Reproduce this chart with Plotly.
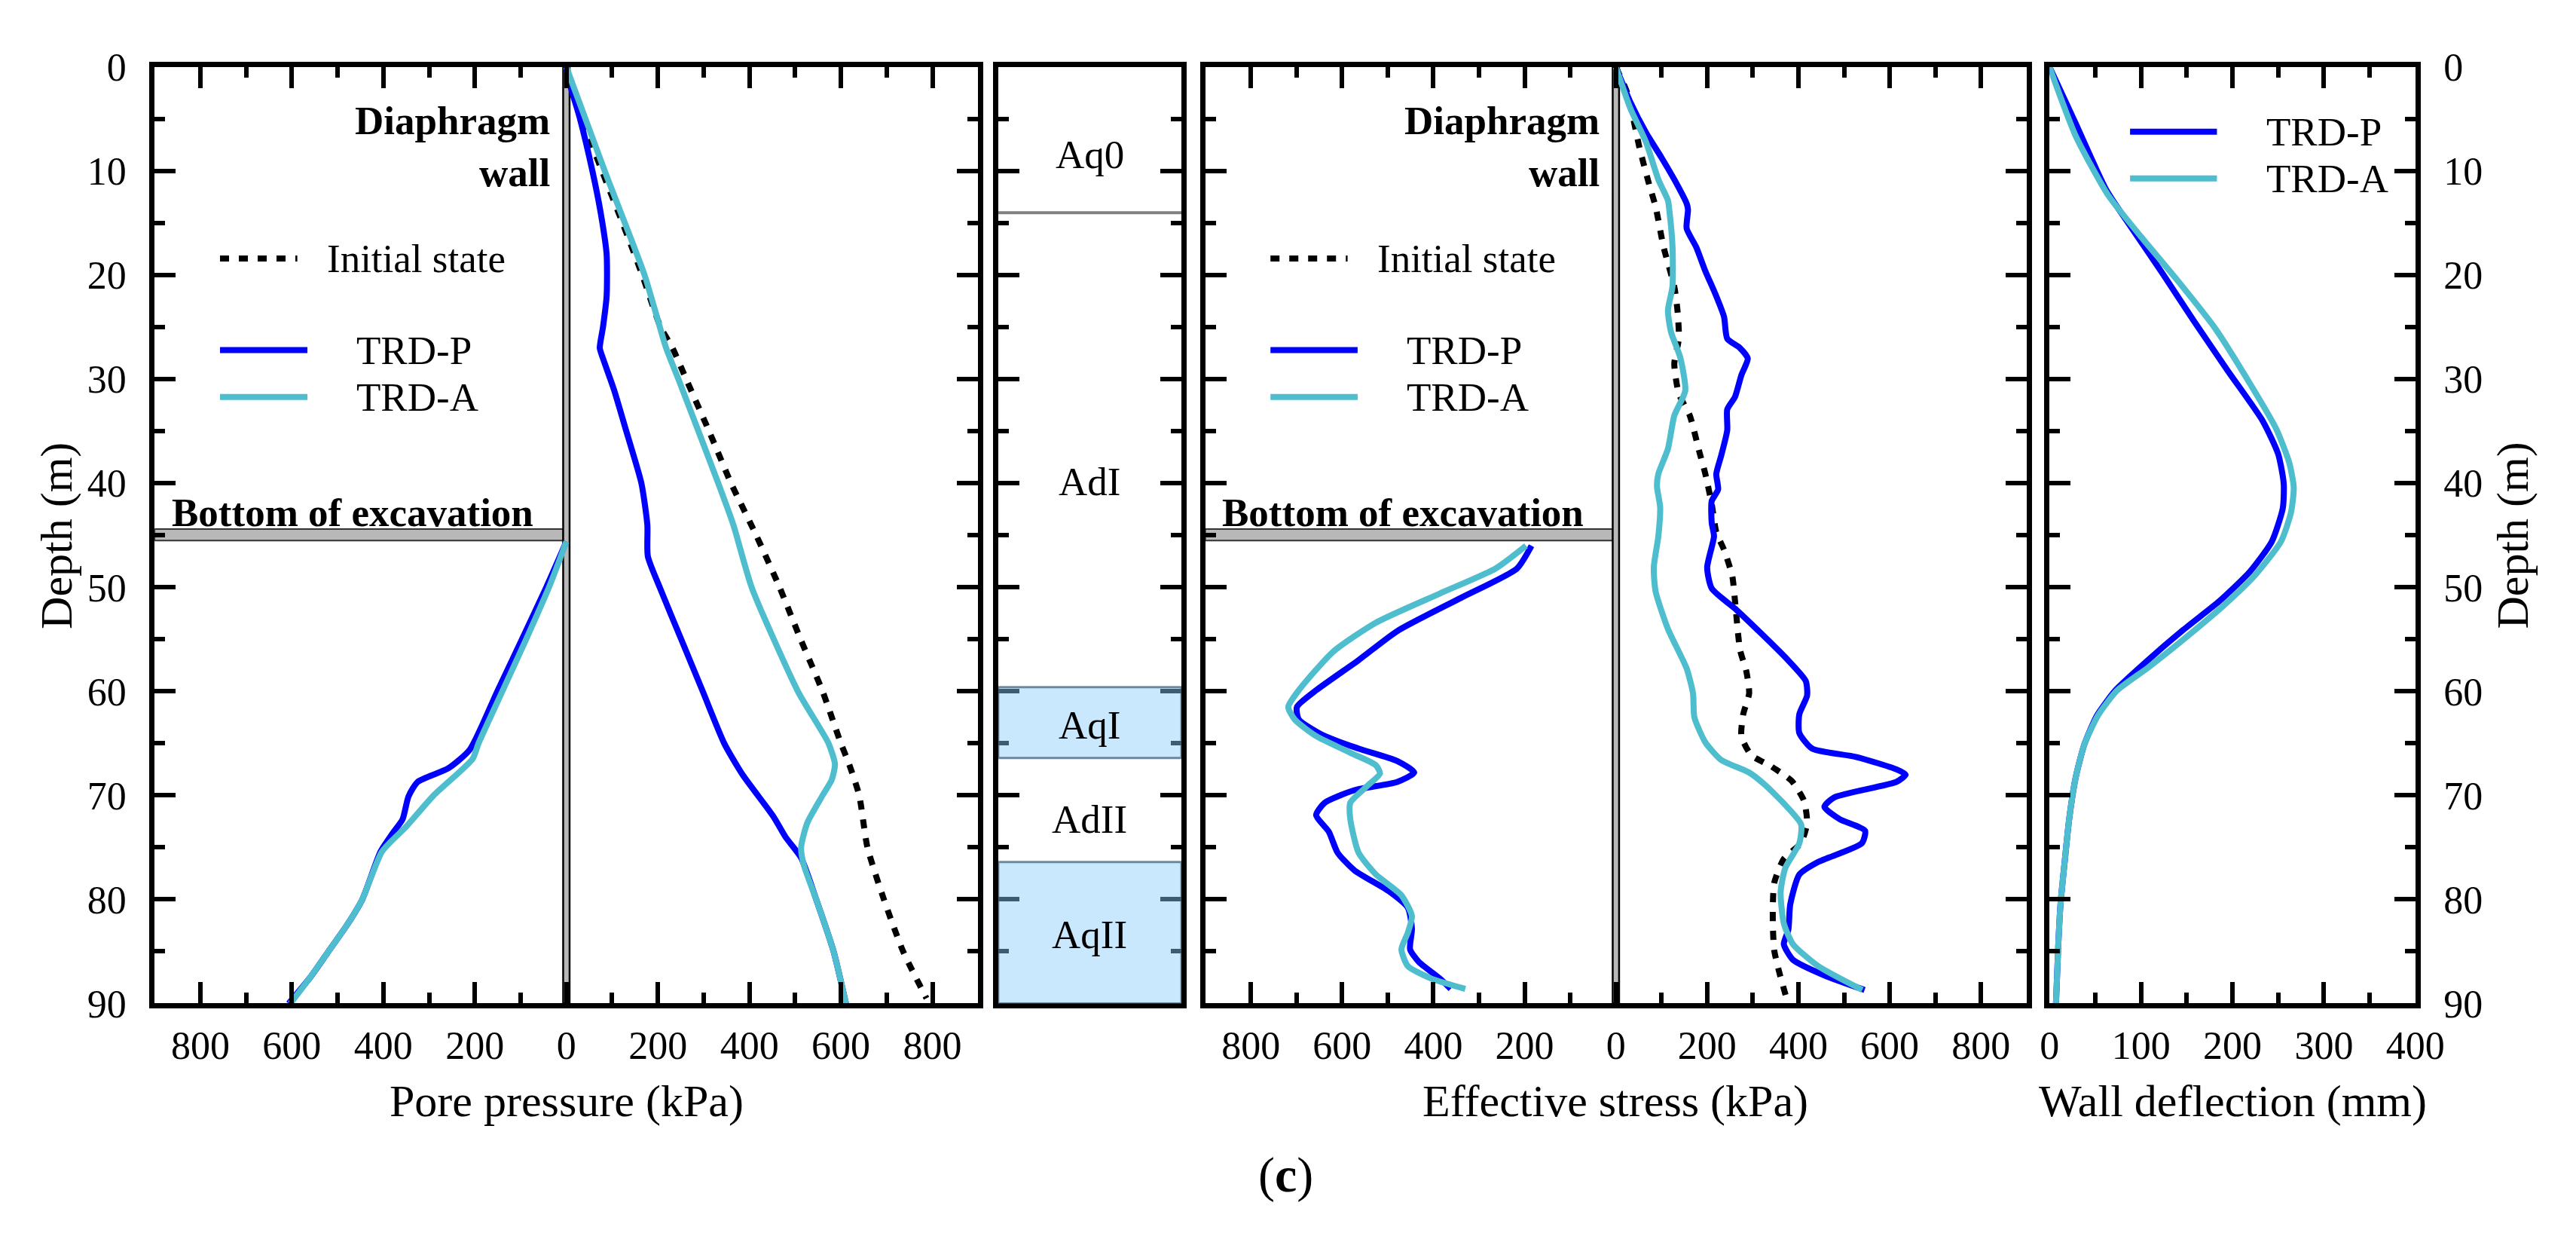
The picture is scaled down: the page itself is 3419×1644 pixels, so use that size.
import plotly.graph_objects as go

W, H = 3419, 1644

# ---- pore pressure (kPa); retained side plotted as negative ----
pp_init_d = [0, 5, 10, 15, 20, 25, 27, 30, 35, 40, 45, 50, 55, 60, 65, 67, 70, 75, 80, 85, 89.5]
pp_init_v = [0, 35, 78, 123, 166, 206, 232, 262, 312, 360, 415, 466, 512, 560, 600, 618, 640, 658, 694, 736, 787]

pp_p_d = [0, 2, 5, 10, 14, 18, 22, 25, 27, 28, 31, 35, 40, 44, 47, 50, 55, 60, 65, 68, 72, 74, 76, 80, 85, 90]
pp_p_v = [0, 10, 30, 57, 75, 88, 88, 80, 73, 80, 104, 131, 164, 177, 178, 204, 251, 298, 345, 385, 452, 479, 513, 546, 584, 611]

pp_a_d = [0, 10, 20, 27, 30, 40, 44, 50, 60, 65, 67, 68.5, 70, 72.7, 75, 76.7, 80, 85, 90]
pp_a_v = [0, 84, 171, 218, 245, 332, 365, 405, 506, 573, 587, 580, 560, 526, 513, 519, 546, 584, 611]

pp_p_left_d = [45.6, 50, 55, 60, 65.6, 67.4, 68.7, 70.1, 72.3, 73.6, 75.4, 80, 82.5, 85, 87.5, 90]
pp_p_left_v = [0, -44, -97, -151, -211, -258, -325, -345, -358, -379, -406, -446, -480, -520, -560, -607]

pp_a_left_d = [45.6, 50, 55, 60, 65, 66.5, 70, 73, 75.4, 80, 82.5, 85, 87.5, 90]
pp_a_left_v = [0, -38, -88, -140, -192, -205, -290, -350, -403, -446, -480, -520, -560, -603]

# ---- effective stress (kPa) ----
es_init_d = [0, 2.5, 7.8, 11.3, 13.4, 17.2, 21.1, 23.4, 26.1, 28.5, 31.4, 33.5, 37.0, 39.1, 42.0, 44.7,
             46.4, 48.9, 51.3, 56.0, 58.1, 60.2, 62.2, 64.3, 66.1, 67.2, 68.6, 70.5, 72.7, 74.6, 76.1,
             78.4, 80.5, 82.6, 84.9, 87.0, 89.2]
es_init_v = [0, 25, 52, 73, 87, 104, 128, 135, 138, 128, 138, 162, 183, 196, 210, 220,
             237, 255, 261, 272, 286, 292, 279, 275, 296, 340, 385, 412, 419, 405, 368,
             347, 344, 344, 347, 358, 372]

es_p_d = [0, 3.4, 6.3, 8.7, 10.8, 13.1, 13.7, 15.5, 17.3, 19.6, 21.7, 24.0, 26.1, 27.0, 28.0, 29.6,
          31.7, 32.9, 34.9, 37.3, 39.1, 40.6, 41.7, 43.8, 45.1, 48.1, 50.1, 52.2, 54.5, 56.9, 59.0,
          60.4, 62.2, 64.0, 65.5, 66.3, 67.5, 68.0, 68.7, 70.2, 71.1, 72.3, 73.4, 74.6, 76.4, 77.6,
          80.5, 82.9, 84.3, 85.8, 87.3, 88.7]
es_p_v = [0, 32, 66, 100, 128, 155, 158, 155, 176, 196, 217, 237, 244, 272, 289, 275,
          261, 244, 244, 231, 220, 224, 210, 210, 215, 200, 210, 265, 320, 375, 416,
          419, 402, 402, 430, 526, 615, 635, 615, 478, 457, 491, 546, 539, 443, 402,
          382, 378, 368, 388, 457, 545]

es_a_d = [0, 4.0, 7.2, 10.8, 12.8, 13.7, 17.2, 21.1, 23.4, 25.5, 27.9, 31.1, 33.5, 36.7, 39.1, 40.3,
          42.3, 45.1, 48.1, 50.4, 54.0, 57.8, 60.2, 62.5, 64.9, 66.6, 67.8, 69.0, 71.1, 72.8, 74.6,
          77.0, 79.3, 82.3, 84.3, 86.4, 88.7]
es_a_v = [0, 32, 66, 93, 114, 117, 124, 124, 114, 121, 141, 152, 128, 114, 93, 90,
          97, 93, 83, 87, 114, 155, 169, 172, 196, 231, 292, 327, 375, 406, 402,
          371, 361, 368, 388, 443, 540]

es_p_left_d = [46.0, 48.2, 51.0, 54.2, 57.0, 59.9, 61.5, 62.7, 64.3, 65.5, 66.7, 67.8, 68.7, 69.5,
               70.7, 71.9, 73.5, 75.5, 77.2, 79.2, 80.8, 82.8, 84.8, 86.0, 87.6, 88.6]
es_p_left_v = [-185, -217, -339, -479, -564, -657, -699, -695, -638, -564, -479, -442, -479, -573,
               -638, -657, -629, -610, -573, -498, -456, -447, -451, -432, -386, -362]

es_a_left_d = [46.0, 48.2, 50.6, 53.4, 56.2, 59.9, 61.5, 62.7, 64.3, 65.9, 67.1, 67.9, 69.1, 70.7,
               72.3, 75.5, 77.6, 79.6, 81.6, 83.2, 84.8, 86.4, 87.6, 88.6]
es_a_left_v = [-197, -264, -386, -526, -620, -695, -718, -704, -657, -582, -526, -517, -545, -582,
               -582, -564, -526, -470, -447, -456, -470, -456, -405, -330]

# ---- wall deflection (mm) ----
wd_p_d = [0, 5.4, 11.8, 15.5, 19.9, 24.3, 29.2, 34.0, 37.2, 40.0, 42.4, 45.6, 48.5, 51.3, 54.1, 57.2,
          59.9, 62.3, 65.1, 68.3, 72.3, 76.3, 80.4, 84.4, 90]
wd_p_v = [0, 28.5, 62, 90, 124, 157, 195, 233, 250, 256, 255, 243, 219, 186, 146, 105,
          72, 52, 38, 28.5, 21.4, 16.6, 12, 9.5, 7]

wd_a_d = [0, 6.6, 12.3, 16.3, 20.3, 25.1, 30.4, 34.8, 38.0, 40.4, 42.8, 45.6, 48.9, 51.7, 54.9, 57.7,
          59.9, 62.3, 65.1, 68.3, 72.3, 76.3, 80.4, 84.4, 90]
wd_a_v = [0, 28.5, 64, 100, 138, 181, 219, 248, 262, 267, 264, 253, 224, 191, 148, 108,
          74, 53, 38, 28.5, 21.4, 16.6, 12, 9.5, 7]

# ---- soil column ----
layer_names = ["Aq0", "AdI", "AqI", "AdII", "AqII"]
layer_label_depth = [8.4, 39.8, 63.2, 72.3, 83.4]
aq0_base = 14
aquifer_top = [59.6, 76.4]
aquifer_bot = [66.4, 90]

stress_ticks = [-800, -600, -400, -200, 0, 200, 400, 600, 800]
stress_labels = ["800", "600", "400", "200", "0", "200", "400", "600", "800"]
stress_minor = [-700, -500, -300, -100, 100, 300, 500, 700]
defl_ticks = [0, 100, 200, 300, 400]

BLUE = "#0000FF"
CYAN = "#4EBDCD"
FONT = "Liberation Serif"
LW = 8
DOT = "12px,13px"
TXT = 53

fig = go.Figure()


def curve(x, y, color, xa, ya, dash=None):
    fig.add_trace(go.Scatter(
        x=x, y=y, mode="lines", xaxis=xa, yaxis=ya, showlegend=False,
        line=dict(color=color, width=LW, dash=dash, shape="spline", smoothing=0.6),
    ))


curve(pp_init_v, pp_init_d, "black", "x", "y", DOT)
curve(pp_p_v, pp_p_d, BLUE, "x", "y")
curve(pp_a_v, pp_a_d, CYAN, "x", "y")
curve(pp_p_left_v, pp_p_left_d, BLUE, "x", "y")
curve(pp_a_left_v, pp_a_left_d, CYAN, "x", "y")

curve(es_init_v, es_init_d, "black", "x3", "y3", DOT)
curve(es_p_v, es_p_d, BLUE, "x3", "y3")
curve(es_a_v, es_a_d, CYAN, "x3", "y3")
curve(es_p_left_v, es_p_left_d, BLUE, "x3", "y3")
curve(es_a_left_v, es_a_left_d, CYAN, "x3", "y3")

curve(wd_p_v, wd_p_d, BLUE, "x4", "y4")
curve(wd_a_v, wd_a_d, CYAN, "x4", "y4")

ydom = [1 - 1342 / H, 1 - 55 / H]
xdoms = [[187 / W, 1297 / W], [1324 / W, 1571 / W], [1603 / W, 2710 / W], [2741 / W, 3234 / W]]

tickfont = dict(family=FONT, size=52, color="black")
common = dict(showline=True, linewidth=7, linecolor="black", mirror="allticks",
              ticks="inside", tickwidth=6, tickcolor="black", showgrid=False,
              zeroline=False, tickfont=tickfont)
minor_style = dict(ticks="inside", ticklen=14, tickwidth=6, tickcolor="black")

ycommon = dict(common, range=[90, 0], domain=ydom, tickvals=list(range(0, 91, 10)), ticklen=28,
               minor=dict(minor_style, tickvals=list(range(5, 90, 10))),
               ticklabelstandoff=20)

xstress = dict(common, range=[-900, 900], tickvals=stress_ticks, ticktext=stress_labels, ticklen=28,
               minor=dict(minor_style, tickvals=stress_minor),
               ticklabelstandoff=4)

fig.update_layout(
    width=W, height=H,
    margin=dict(l=0, r=0, t=0, b=0),
    paper_bgcolor="white", plot_bgcolor="white",
    font=dict(family=FONT, color="black"),
    xaxis=dict(xstress, domain=xdoms[0], anchor="y"),
    yaxis=dict(ycommon, anchor="x", showticklabels=True),
    xaxis2=dict(common, domain=xdoms[1], anchor="y2", range=[0, 1], ticks="", showticklabels=False),
    yaxis2=dict(ycommon, anchor="x2", showticklabels=False),
    xaxis3=dict(xstress, domain=xdoms[2], anchor="y3"),
    yaxis3=dict(ycommon, anchor="x3", showticklabels=False),
    xaxis4=dict(common, domain=xdoms[3], anchor="y4", range=[0, 400], tickvals=defl_ticks, ticklen=28,
                minor=dict(minor_style, tickvals=[50, 150, 250, 350]),
                ticklabelstandoff=4),
    yaxis4=dict(ycommon, anchor="x4", side="right", showticklabels=True),
)

shapes = []
anns = []

for xa, ya in (("x", "y"), ("x3", "y3")):
    # excavation bottom band
    shapes.append(dict(type="rect", xref=xa, yref=ya, x0=-900, x1=-7, y0=44.4, y1=45.5,
                       fillcolor="#b8b8b8", line=dict(color="#333333", width=2), layer="below"))
    # diaphragm wall
    shapes.append(dict(type="rect", xref=xa, yref=ya, x0=-7, x1=7, y0=0, y1=90,
                       fillcolor="#b8b8b8", line=dict(color="black", width=2.5), layer="below"))
    anns.append(dict(xref=xa, yref=ya, x=-32, y=7.6, xanchor="right", yanchor="middle",
                     text="<b>Diaphragm</b><br><b>wall</b>", align="right", showarrow=False,
                     font=dict(family=FONT, size=TXT)))
    anns.append(dict(xref=xa, yref=ya, x=-866, y=42.8, xanchor="left", yanchor="middle",
                     text="<b>Bottom of excavation</b>", showarrow=False,
                     font=dict(family=FONT, size=TXT)))
    # legend keys
    shapes.append(dict(type="line", xref=xa, yref=ya, x0=-757, x1=-588, y0=18.4, y1=18.4,
                       line=dict(color="black", width=LW, dash=DOT)))
    anns.append(dict(xref=xa, yref=ya, x=-526, y=18.4, xanchor="left", yanchor="middle",
                     text="Initial state", showarrow=False, font=dict(family=FONT, size=TXT)))
    for yy, col, name in ((27.2, BLUE, "TRD-P"), (31.7, CYAN, "TRD-A")):
        shapes.append(dict(type="line", xref=xa, yref=ya, x0=-757, x1=-566, y0=yy, y1=yy,
                           line=dict(color=col, width=LW)))
        anns.append(dict(xref=xa, yref=ya, x=-462, y=yy, xanchor="left", yanchor="middle",
                         text=name, showarrow=False, font=dict(family=FONT, size=TXT)))

for yy, col, name in ((6.2, BLUE, "TRD-P"), (10.7, CYAN, "TRD-A")):
    shapes.append(dict(type="line", xref="x4", yref="y4", x0=88, x1=183, y0=yy, y1=yy,
                       line=dict(color=col, width=LW)))
    anns.append(dict(xref="x4", yref="y4", x=235, y=yy, xanchor="left", yanchor="middle",
                     text=name, showarrow=False, font=dict(family=FONT, size=TXT)))

# soil column
shapes.append(dict(type="line", xref="x2", yref="y2", x0=0, x1=1, y0=aq0_base, y1=aq0_base,
                   line=dict(color="#808080", width=4)))
for t, b in zip(aquifer_top, aquifer_bot):
    shapes.append(dict(type="rect", xref="x2", yref="y2", x0=0, x1=1, y0=t, y1=b,
                       fillcolor="rgba(135,205,250,0.45)", line=dict(color="rgba(70,100,125,0.75)", width=3),
                       layer="above"))
for name, d in zip(layer_names, layer_label_depth):
    anns.append(dict(xref="x2", yref="y2", x=0.5, y=d, text=name, showarrow=False,
                     font=dict(family=FONT, size=TXT)))

# titles
ty = 1 - 1476 / H
for xc, txt in ((742, "Pore pressure (kPa)"), (2156, "Effective stress (kPa)"),
                (2988, "Wall deflection (mm)")):
    anns.append(dict(xref="paper", yref="paper", x=xc / W, y=ty, text=txt, showarrow=False,
                     xanchor="center", yanchor="middle", font=dict(family=FONT, size=60)))
for xc in (55, 3365):
    anns.append(dict(xref="paper", yref="paper", x=xc / W, y=1 - 699 / H, text="Depth (m)",
                     textangle=-90, showarrow=False, xanchor="center", yanchor="middle",
                     font=dict(family=FONT, size=60)))
anns.append(dict(xref="paper", yref="paper", x=1712 / W, y=1 - 1578 / H, text="(<b>c</b>)",
                 showarrow=False, xanchor="center", yanchor="middle", font=dict(family=FONT, size=66)))

fig.update_layout(shapes=shapes, annotations=anns)

fig.write_html("out.html")
